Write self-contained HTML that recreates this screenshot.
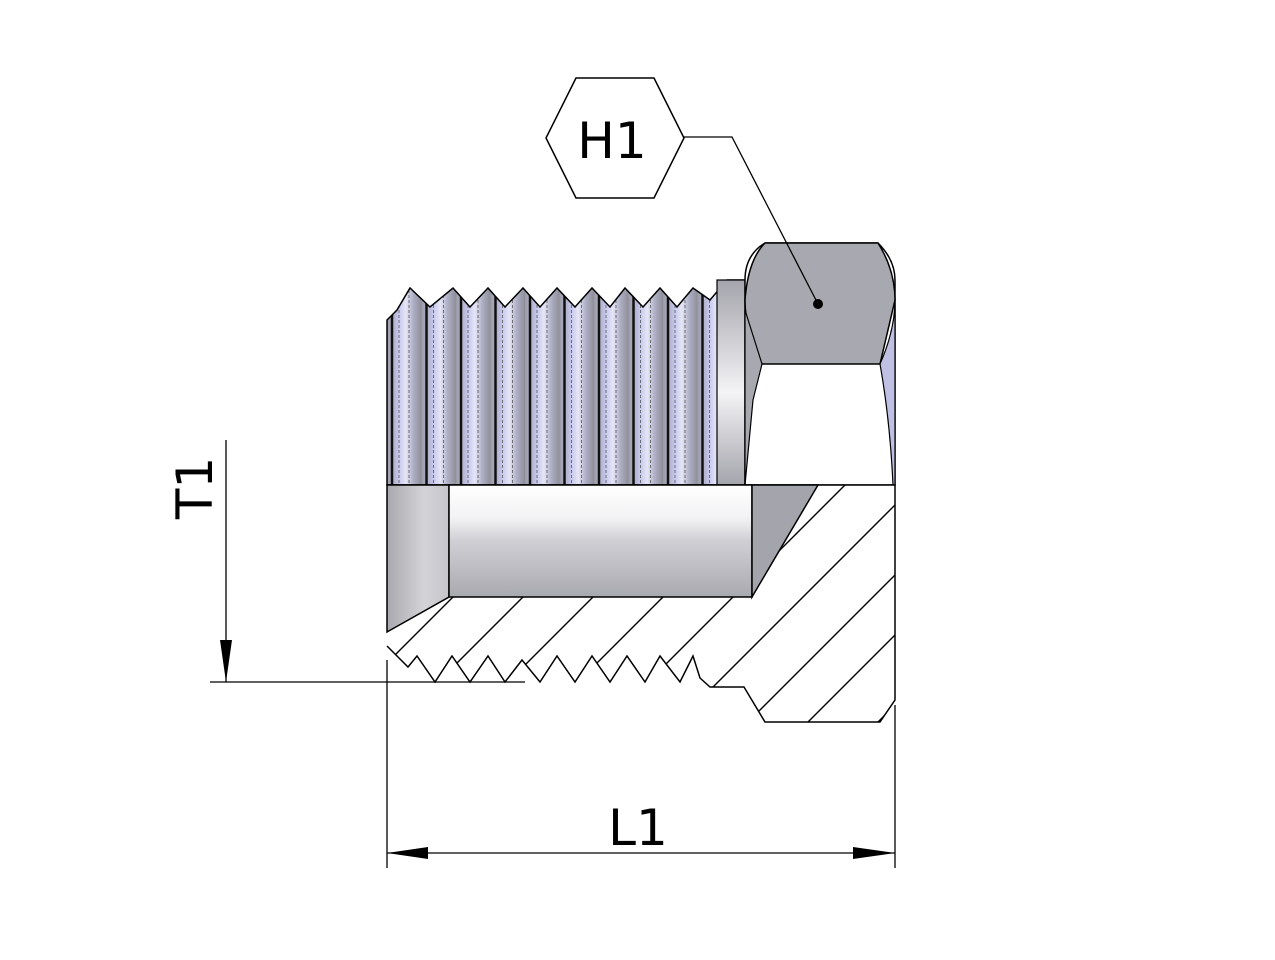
<!DOCTYPE html>
<html><head><meta charset="utf-8"><style>html,body{margin:0;padding:0;background:#fff}svg{display:block}</style></head><body>
<svg width="1275" height="960" viewBox="0 0 1275 960" xmlns="http://www.w3.org/2000/svg">
<defs>
<linearGradient id="thr" x1="0" x2="1" y1="0" y2="0" spreadMethod="repeat">
<stop offset="0" stop-color="#9a9aa6"/><stop offset="0.35" stop-color="#c8c8ee"/><stop offset="0.55" stop-color="#e6e6f6"/><stop offset="0.75" stop-color="#b0b0c8"/><stop offset="1" stop-color="#8e8e98"/>
</linearGradient>
<pattern id="thp" x="387" y="0" width="34.5" height="10" patternUnits="userSpaceOnUse">
<rect width="34.5" height="10" fill="url(#thr)"/>
<line x1="5" y1="0" x2="5" y2="10" stroke="#111" stroke-width="2.5"/>
<line x1="12" y1="0" x2="12" y2="10" stroke="#555" stroke-width="0.8" stroke-dasharray="3 2"/>
<line x1="22" y1="0" x2="22" y2="10" stroke="#555" stroke-width="0.8" stroke-dasharray="3 2"/>
</pattern>
<linearGradient id="bore" x1="0" x2="0" y1="0" y2="1">
<stop offset="0" stop-color="#fff"/><stop offset="0.3" stop-color="#f2f2f4"/><stop offset="0.5" stop-color="#cfcfd4"/><stop offset="1" stop-color="#a9a9b0"/>
</linearGradient>
<linearGradient id="cham" x1="0" x2="1" y1="0" y2="0">
<stop offset="0" stop-color="#a8a8ae"/><stop offset="0.6" stop-color="#d4d4d8"/><stop offset="1" stop-color="#c4c4ca"/>
</linearGradient>
<linearGradient id="neck" x1="0" x2="0" y1="0" y2="1">
<stop offset="0" stop-color="#a4a4ac"/><stop offset="0.55" stop-color="#f4f4f6"/><stop offset="1" stop-color="#a4a4ac"/>
</linearGradient>
<clipPath id="hc">
<path d="M387,485 L895,485 L895,700 L880,722 L765,722 L744,687 L710,687 L700,678 L693,656 L680,682 L660,656 L645,682 L627,656 L610,682 L592,656 L575,682 L557,656 L540,682 L522,660 L505,682 L488,656 L470,682 L452,656 L435,682 L417,656 L408,667 L387,646 Z"/>
</clipPath>
</defs>

<!-- external thread -->
<path d="M387,485 L387,320 L397,310 L410,288 L430,307 L453,288 L470,307 L488,288 L505,307 L523,288 L540,307 L557,288 L575,307 L592,288 L610,307 L625,288 L643,307 L660,288 L677,307 L693,288 L710,300 L727,280 L745,280 L745,485 Z" fill="url(#thp)" stroke="#000" stroke-width="1.5"/>
<rect x="717" y="280" width="28" height="205" fill="url(#neck)" stroke="#000" stroke-width="1.2"/>

<!-- nut -->
<path d="M745,280 Q745,255 765,243 L878,243 Q895,260 895,280 L895,485 L745,485 Z" fill="#fff" stroke="#000" stroke-width="1.5"/>
<path d="M765,243 L878,243 Q895,270 895,300 L880,364 L762,364 Q745,330 745,300 Q748,260 765,243 Z" fill="#a8a8b0" stroke="#000" stroke-width="1.5"/>
<path d="M880,364 Q895,330 895,300 L895,485 L893,485 Q890,420 880,364 Z" fill="#c0c0e4" stroke="#000" stroke-width="1.2"/>
<path d="M762,364 L753,400 L745,485 L745,310 Z" fill="#a8a8b0" stroke="#000" stroke-width="1.2"/>

<!-- hatched section -->
<path d="M387,485 L895,485 L895,700 L880,722 L765,722 L744,687 L710,687 L700,678 L693,656 L680,682 L660,656 L645,682 L627,656 L610,682 L592,656 L575,682 L557,656 L540,682 L522,660 L505,682 L488,656 L470,682 L452,656 L435,682 L417,656 L408,667 L387,646 Z" fill="#fff"/>
<g clip-path="url(#hc)" stroke="#000" stroke-width="1.4">
<line x1="420" y1="700" x2="650" y2="470"/>
<line x1="490" y1="700" x2="720" y2="470"/>
<line x1="560" y1="700" x2="790" y2="470"/>
<line x1="630" y1="700" x2="860" y2="470"/>
<line x1="700" y1="700" x2="930" y2="470"/>
<line x1="750" y1="720" x2="1000" y2="470"/>
<line x1="790" y1="740" x2="1050" y2="480"/>
<line x1="860" y1="740" x2="1100" y2="500"/>
<line x1="350" y1="700" x2="580" y2="470"/>
</g>
<path d="M387,485 L895,485 L895,700 L880,722 L765,722 L744,687 L710,687 L700,678 L693,656 L680,682 L660,656 L645,682 L627,656 L610,682 L592,656 L575,682 L557,656 L540,682 L522,660 L505,682 L488,656 L470,682 L452,656 L435,682 L417,656 L408,667 L387,646" fill="none" stroke="#000" stroke-width="1.5"/>

<!-- bore -->
<path d="M387,485 L449,485 L449,597 L387,632 Z" fill="url(#cham)" stroke="#000" stroke-width="1.5"/>
<rect x="449" y="485" width="303" height="112" fill="url(#bore)" stroke="#000" stroke-width="1.5"/>
<path d="M752,485 L818,485 L752,597 Z" fill="#a4a4ac" stroke="#000" stroke-width="1.5"/>

<!-- H1 hexagon and leader -->
<polygon points="546,138 576,78 654,78 684,138 654,198 576,198" fill="#fff" stroke="#000" stroke-width="1.5"/>
<text x="612" y="158" font-family="'DejaVu Sans','Liberation Sans',sans-serif" font-size="50" text-anchor="middle" fill="#000">H1</text>
<polyline points="684,137 732,137 818,304" fill="none" stroke="#000" stroke-width="1.3"/>
<circle cx="818" cy="304" r="5" fill="#000"/>

<!-- T1 dimension -->
<line x1="226" y1="440" x2="226" y2="682" stroke="#000" stroke-width="1.3"/>
<polygon points="220,640 232,640 226,682" fill="#000"/>
<line x1="210" y1="682" x2="525" y2="682" stroke="#000" stroke-width="1.3"/>
<text transform="translate(212,488) rotate(-90)" font-family="'DejaVu Sans','Liberation Sans',sans-serif" font-size="50" text-anchor="middle" fill="#000">T1</text>

<!-- L1 dimension -->
<line x1="387" y1="660" x2="387" y2="868" stroke="#000" stroke-width="1.3"/>
<line x1="895" y1="705" x2="895" y2="868" stroke="#000" stroke-width="1.3"/>
<line x1="387" y1="853" x2="895" y2="853" stroke="#000" stroke-width="1.3"/>
<polygon points="387,853 428,847 428,859" fill="#000"/>
<polygon points="895,853 853,847 853,859" fill="#000"/>
<text x="638" y="845" font-family="'DejaVu Sans','Liberation Sans',sans-serif" font-size="50" text-anchor="middle" fill="#000">L1</text>
</svg>
</body></html>
